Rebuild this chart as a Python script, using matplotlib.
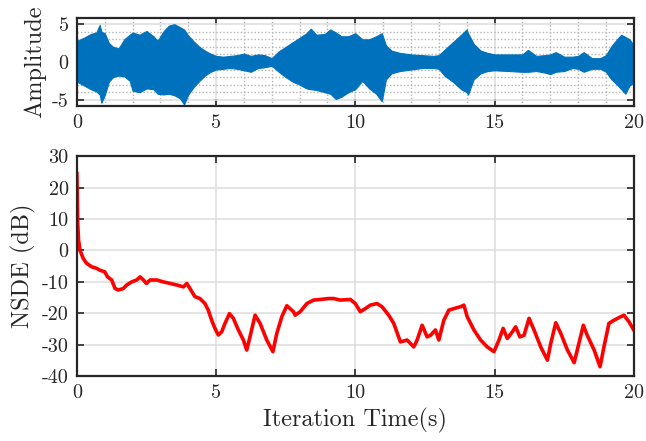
import matplotlib
matplotlib.use('agg')
import matplotlib.pyplot as plt
from matplotlib.ticker import MultipleLocator

# 字体: Computer Modern 风格
plt.rcParams['font.family'] = 'serif'
plt.rcParams['font.serif'] = ['cmr10']
plt.rcParams['mathtext.fontset'] = 'cm'
plt.rcParams['axes.unicode_minus'] = False
plt.rcParams['axes.formatter.use_mathtext'] = False

# 上图: 信号包络 (上/下)
sig_t = [0.0, 0.25, 0.5, 0.7, 0.82, 0.88, 1.0, 1.15, 1.3, 1.5, 1.7, 1.9, 2.0, 2.25, 2.5,
         2.75, 2.9, 3.1, 3.3, 3.5, 3.7, 3.85, 4.0, 4.2, 4.4, 4.6, 4.8, 5.0, 5.25, 5.5,
         5.75, 6.0, 6.25, 6.5, 6.75, 7.0, 7.25, 7.5, 7.75, 8.0, 8.25, 8.4, 8.6, 8.9, 9.1,
         9.3, 9.5, 9.75, 10.0, 10.25, 10.5, 10.75, 10.95, 11.1, 11.3, 11.6, 12.0, 12.4, 12.8, 13.0,
         13.2, 13.5, 13.8, 14.0, 14.05, 14.25, 14.5, 14.75, 15.0, 15.5, 16.0, 16.2, 16.5, 16.8, 17.0,
         17.2, 17.5, 17.8, 18.0, 18.2, 18.5, 18.8, 19.0, 19.2, 19.4, 19.55, 19.7, 19.85, 20.0]
sig_upper = [2.8, 3.2, 3.7, 3.9, 4.9, 4.0, 3.8, 2.5, 2.0, 1.8, 3.0, 3.6, 3.9, 3.6, 4.1,
             3.4, 2.8, 4.0, 4.8, 5.0, 4.6, 4.3, 3.5, 2.7, 2.0, 1.5, 1.1, 0.8, 0.7, 0.8,
             0.9, 1.1, 0.8, 1.0, 0.9, 0.5, 1.4, 2.0, 2.6, 3.2, 3.8, 4.4, 3.6, 3.7, 4.3,
             3.9, 3.4, 3.4, 3.8, 3.0, 3.0, 3.4, 3.8, 2.2, 1.5, 1.2, 1.0, 0.9, 0.8, 0.9,
             1.6, 2.6, 3.6, 4.3, 3.8, 2.4, 1.5, 1.2, 1.0, 1.0, 1.0, 1.6, 0.8, 0.9, 1.0,
             1.3, 0.7, 0.7, 0.8, 1.3, 0.5, 0.5, 0.9, 2.1, 3.0, 3.6, 3.3, 3.0, 2.2]
sig_lower = [-2.6, -3.1, -3.6, -3.9, -4.3, -5.4, -4.4, -2.6, -2.0, -1.8, -1.9, -2.5, -3.8, -4.0, -3.5,
             -3.6, -4.2, -4.3, -4.2, -4.4, -4.8, -5.6, -4.3, -3.3, -2.5, -1.8, -1.3, -1.0, -0.9, -0.8,
             -0.9, -1.1, -1.3, -0.8, -0.7, -0.5, -1.3, -2.0, -2.6, -3.0, -3.5, -3.6, -3.7, -4.0, -4.2,
             -4.9, -4.6, -4.0, -3.6, -2.5, -3.5, -4.2, -5.2, -2.3, -1.5, -1.2, -1.0, -0.8, -0.8, -0.9,
             -1.8, -2.6, -3.6, -4.0, -4.3, -2.3, -1.5, -1.2, -1.1, -1.2, -1.3, -1.3, -1.2, -1.4, -1.6,
             -1.3, -1.2, -0.8, -0.9, -1.3, -0.9, -0.9, -1.3, -2.3, -3.0, -3.6, -4.2, -3.1, -2.8]

# 下图: NSDE 曲线
nsde_t = [0.0, 0.03, 0.06, 0.11, 0.23, 0.35, 0.53, 0.71, 0.83, 1.0, 1.1, 1.25, 1.37, 1.49, 1.67,
          1.79, 1.97, 2.15, 2.27, 2.39, 2.5, 2.63, 2.87, 3.1, 3.35, 3.59, 3.83, 3.95, 4.06, 4.24,
          4.42, 4.6, 4.72, 4.84, 4.96, 5.08, 5.2, 5.32, 5.48, 5.62, 5.8, 5.98, 6.1, 6.22, 6.4,
          6.58, 6.82, 7.04, 7.18, 7.36, 7.54, 7.78, 7.84, 8.02, 8.26, 8.5, 8.74, 9.04, 9.22, 9.46,
          9.82, 10.0, 10.18, 10.36, 10.54, 10.78, 10.96, 11.2, 11.38, 11.62, 11.86, 12.1, 12.22, 12.4, 12.58,
          12.7, 12.88, 13.0, 13.18, 13.36, 13.54, 13.78, 13.9, 14.02, 14.26, 14.5, 14.74, 14.98, 15.16, 15.31,
          15.46, 15.64, 15.76, 15.91, 16.06, 16.24, 16.42, 16.66, 16.9, 17.02, 17.2, 17.38, 17.62, 17.86, 18.03,
          18.19, 18.33, 18.58, 18.79, 18.93, 19.11, 19.29, 19.53, 19.65, 19.83, 20.0]
nsde_db = [24.5, 8.6, 3.3, 0.1, -2.6, -4.1, -5.2, -5.7, -6.3, -6.8, -8.4, -9.4, -12.1, -12.6, -12.1,
           -11.0, -10.0, -9.4, -8.4, -9.4, -10.5, -9.4, -9.4, -10.0, -10.5, -11.0, -11.6, -10.5, -12.1, -14.7,
           -15.3, -16.9, -19.0, -22.2, -24.8, -26.9, -25.9, -23.2, -20.1, -21.6, -25.3, -28.5, -31.7, -27.4, -20.6,
           -23.2, -28.5, -32.2, -26.4, -21.1, -17.6, -19.5, -20.6, -19.5, -16.9, -15.8, -15.6, -15.3, -15.3, -15.8,
           -15.6, -16.9, -19.5, -18.5, -17.4, -16.9, -17.9, -20.6, -23.2, -29.1, -28.5, -30.7, -28.5, -23.8, -27.5,
           -27.0, -25.3, -28.5, -22.2, -19.0, -18.5, -17.9, -17.4, -21.1, -25.3, -28.5, -30.7, -32.2, -28.5, -24.8,
           -28.0, -25.9, -24.3, -27.5, -27.0, -21.6, -25.3, -30.7, -34.9, -29.6, -23.0, -26.4, -31.7, -35.7, -29.6,
           -23.8, -27.0, -31.7, -37.0, -30.7, -23.2, -22.2, -21.1, -20.6, -22.7, -25.3]

fig = plt.figure(figsize=(6.46, 4.41), dpi=100)
ax1 = fig.add_axes([0.119, 0.760, 0.862, 0.199])
ax2 = fig.add_axes([0.119, 0.147, 0.862, 0.499])

axis_col = '#262626'
grid_col = '#dcdcdc'

for ax in (ax1, ax2):
    ax.set_axisbelow(True)
    ax.tick_params(which='major', direction='in', length=5, width=1.2, top=True, right=True,
                   labelsize=14.5, colors=axis_col, pad=6)
    ax.tick_params(which='minor', length=0)
    for s in ax.spines.values():
        s.set_linewidth(1.6)
        s.set_color(axis_col)
    ax.grid(True, which='major', color=grid_col, lw=1.1, ls='-')

# 上图
ax1.fill_between(sig_t, sig_lower, sig_upper, color='#0072BD', lw=0.8, edgecolor='#0072BD')
ax1.set_xlim(0, 20)
ax1.set_ylim(-5.8, 5.8)
ax1.set_xticks([0, 5, 10, 15, 20])
ax1.set_yticks([-5, 0, 5])
ax1.xaxis.set_minor_locator(MultipleLocator(1))
ax1.yaxis.set_minor_locator(MultipleLocator(1))
ax1.grid(True, which='minor', color='#b4b4b4', lw=1.0, ls=(0, (1, 1.5)))
ax1.set_ylabel('Amplitude', fontsize=17.5, color=axis_col)

# 下图
ax2.plot(nsde_t, nsde_db, color='#FF0000', lw=2.6)
ax2.set_xlim(0, 20)
ax2.set_ylim(-40, 30)
ax2.set_xticks([0, 5, 10, 15, 20])
ax2.set_yticks(range(-40, 31, 10))
ax2.set_ylabel('NSDE (dB)', fontsize=17.5, color=axis_col)
ax2.set_xlabel('Iteration Time(s)', fontsize=17.5, color=axis_col)

fig.savefig('out.png', dpi=100)
